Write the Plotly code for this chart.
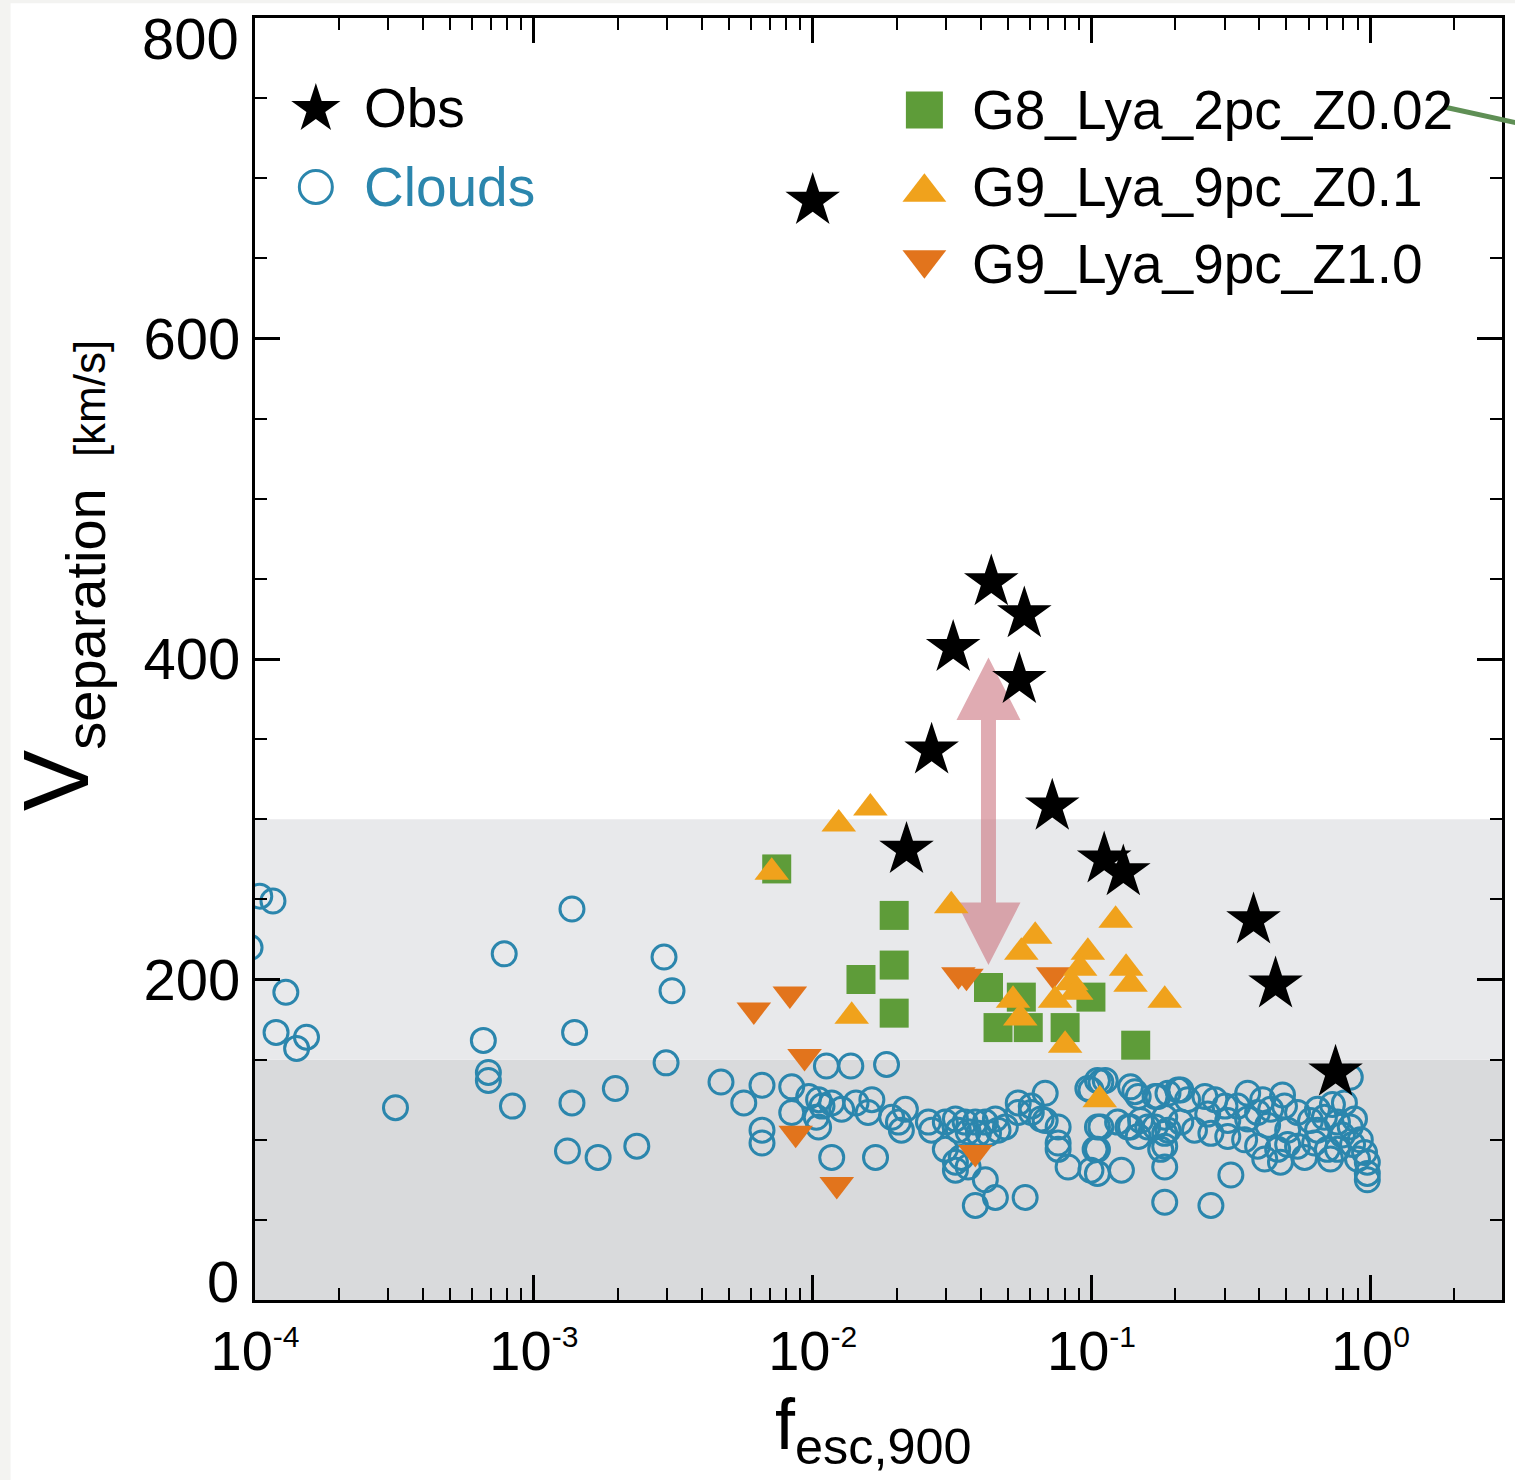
import plotly.graph_objects as go

# ---------------- data ----------------
# Observed Lyman-alpha emitters (escape fraction, peak separation in km/s)
obs_f = [0.0100, 0.0437, 0.0574, 0.0319, 0.0551, 0.0267, 0.0723, 0.0217, 0.111, 0.130, 0.381, 0.457, 0.750]
obs_v = [686, 448, 428, 407, 387, 343, 308, 281, 275, 267, 237, 197, 142]

# Individual star-forming clouds
cloud_f = [
    1.04e-4, 1.16e-4, 0.96e-4, 1.29e-4, 1.19e-4, 1.53e-4, 1.41e-4, 3.19e-4, 6.59e-4, 6.87e-4,
    6.87e-4, 8.38e-4, 7.83e-4, 1.37e-3, 1.40e-3, 1.37e-3, 1.96e-3, 1.32e-3, 1.70e-3, 2.34e-3,
    2.93e-3, 3.13e-3, 2.98e-3, 4.69e-3, 5.66e-3, 6.58e-3, 6.58e-3, 6.58e-3, 8.41e-3, 8.41e-3,
    0.0112, 0.0137, 0.0184, 9.68e-3, 0.0105, 0.0108, 0.0103, 0.0117, 0.0127, 0.0105,
    0.0117, 0.0168, 0.0143, 0.0163, 0.0158, 0.0192, 0.0215, 0.0208, 0.0203, 0.0260,
    0.0267, 0.0299, 0.0325, 0.0352, 0.0383, 0.0416, 0.0452, 0.0491, 0.0333, 0.0361,
    0.0393, 0.0427, 0.0462, 0.0299, 0.0325, 0.0341, 0.0361, 0.0325, 0.0416, 0.0383,
    0.0452, 0.0578, 0.0546, 0.0608, 0.0682, 0.0659, 0.0759, 0.0759, 0.0824, 0.0995,
    0.105, 0.105, 0.103, 0.0995, 0.128, 0.138, 0.147, 0.138, 0.147, 0.0970,
    0.108, 0.143, 0.169, 0.188, 0.209, 0.0759, 0.135, 0.150, 0.169, 0.188,
    0.209, 0.177, 0.183, 0.183, 0.0546, 0.0608, 0.0682, 0.112, 0.173, 0.204,
    0.221, 0.255, 0.277, 0.363, 0.301, 0.334, 0.394, 0.439, 0.492, 0.548,
    0.610, 0.684, 0.762, 0.847, 0.108, 0.124, 0.159, 0.183, 0.234, 0.268,
    0.308, 0.354, 0.394, 0.465, 0.548, 0.631, 0.701, 0.418, 0.476, 0.581,
    0.719, 0.847, 0.807, 0.877, 0.920, 0.953, 0.975, 0.975, 0.975, 0.105,
    0.105, 0.183, 0.316, 0.268, 0.183, 0.428, 0.505, 0.646, 0.794, 0.863,
    0.762, 0.899, 0.363, 0.308, 0.261, 0.505, 0.646, 0.731, 0.484, 0.411,
]
cloud_v = [
    252, 249, 220, 192, 167, 164, 157, 120, 162, 142,
    137, 121, 216, 244, 167, 123, 132, 93, 89, 96,
    214, 193, 148, 136, 123, 134, 106, 98, 133, 117,
    146, 146, 147, 127, 125, 121, 114, 123, 119, 108,
    89, 89, 123, 125, 117, 114, 119, 106, 111, 111,
    106, 111, 113, 111, 111, 111, 113, 108, 106, 105,
    104, 104, 106, 94, 86, 89, 83, 81, 75, 59,
    64, 64, 117, 121, 129, 113, 108, 98, 83, 131,
    137, 108, 94, 81, 81, 133, 127, 108, 102, 132,
    136, 130, 127, 129, 131, 94, 108, 112, 108, 106,
    111, 94, 83, 61, 123, 117, 112, 137, 127, 131,
    125, 127, 125, 129, 121, 121, 117, 119, 121, 117,
    112, 114, 111, 108, 108, 111, 108, 104, 106, 104,
    102, 100, 96, 94, 96, 98, 94, 88, 86, 89,
    88, 139, 123, 113, 100, 92, 86, 79, 75, 94,
    79, 96, 78, 59, 114, 109, 106, 106, 103, 97,
    94, 88, 113, 112, 116, 97, 119, 122, 128, 125,
]

# G8_Lya_2pc_Z0.02 simulation snapshots
g8_f = [7.43e-3, 0.0196, 0.0196, 0.0149, 0.0196, 0.0427, 0.0560, 0.0462, 0.0593, 0.0804, 0.0995, 0.144]
g8_v = [269, 240, 209, 200, 179, 195, 189, 170, 170, 170, 189, 159]

# G9_Lya_9pc_Z0.1 simulation snapshots
g9a_f = [7.13e-3, 0.0124, 0.0161, 0.0314, 0.0138, 0.122, 0.0628, 0.0560, 0.0970, 0.0910,
         0.133, 0.138, 0.0846, 0.183, 0.0523, 0.0555, 0.0740, 0.0804, 0.0881, 0.107]
g9a_v = [267, 297, 307, 246, 177, 237, 227, 217, 217, 207,
         207, 197, 198, 187, 187, 176, 187, 159, 192, 125]

# G9_Lya_9pc_Z1.0 simulation snapshots
g9b_f = [6.15e-3, 8.28e-3, 9.35e-3, 8.69e-3, 0.0122, 0.0383, 0.0333, 0.0356, 0.0728]
g9b_v = [181, 191, 152, 104, 72, 92, 203, 202, 203]

# Shaded velocity bands and the highlighted offset (km/s)
band_dark = [0, 150]
band_light = [150, 300]
offset_f = 0.0427
offset_v = [209, 401]

x_tickvals = [1e-4, 1e-3, 1e-2, 1e-1, 1e0]
x_ticktext = ["-4", "-3", "-2", "-1", "0"]
y_inner_ticks = [200, 400, 600]
y_end_ticks = [0, 800]

# ---------------- styling ----------------
FONT = "Liberation Sans, Arial, Helvetica, sans-serif"
C_CLOUD = "#2b86ad"
C_G8 = "#5e9c39"
C_G9A = "#f0a21c"
C_G9B = "#e2741c"
C_OBS = "#000000"

fig = go.Figure()

fig.add_trace(go.Scatter(
    x=cloud_f, y=cloud_v, mode="markers", name="Clouds",
    marker=dict(symbol="circle-open", size=24, color=C_CLOUD, line=dict(width=3, color=C_CLOUD)),
))
fig.add_trace(go.Scatter(
    x=g8_f, y=g8_v, mode="markers", name="G8_Lya_2pc_Z0.02",
    marker=dict(symbol="square", size=29, color=C_G8, line=dict(width=0)),
))
fig.add_trace(go.Scatter(
    x=g9b_f, y=g9b_v, mode="markers", name="G9_Lya_9pc_Z1.0",
    marker=dict(symbol="triangle-down", size=30, color=C_G9B, line=dict(width=0)),
))
fig.add_trace(go.Scatter(
    x=g9a_f, y=g9a_v, mode="markers", name="G9_Lya_9pc_Z0.1",
    marker=dict(symbol="triangle-up", size=30, color=C_G9A, line=dict(width=0)),
))
fig.add_trace(go.Scatter(
    x=obs_f, y=obs_v, mode="markers", name="Obs",
    marker=dict(symbol="star", size=41, color=C_OBS, line=dict(width=0)),
))

# ---------------- key (drawn on an overlay axis spanning the plot area) ----------------
key_items = [
    ("star", 37, C_OBS, 0.0488, 0.9290),
    ("circle-open", 33, C_CLOUD, 0.0488, 0.8682),
    ("square", 37, C_G8, 0.5368, 0.9282),
    ("triangle-up", 38, C_G9A, 0.5368, 0.8640),
    ("triangle-down", 38, C_G9B, 0.5368, 0.8115),
]
for sym, sz, col, kx, ky in key_items:
    fig.add_trace(go.Scatter(
        x=[kx], y=[ky], mode="markers", xaxis="x2", yaxis="y2", showlegend=False,
        hoverinfo="skip",
        marker=dict(symbol=sym, size=sz, color=col, line=dict(width=3 if sym == "circle-open" else 0, color=col)),
    ))

key_text = [
    ("Obs", "black", 0.0856, 0.9298),
    ("Clouds", C_CLOUD, 0.0856, 0.8682),
    ("G8_Lya_2pc_Z0.02", "black", 0.5736, 0.9282),
    ("G9_Lya_9pc_Z0.1", "black", 0.5736, 0.8682),
    ("G9_Lya_9pc_Z1.0", "black", 0.5736, 0.8081),
]
annotations = []
for txt, col, tx, ty in key_text:
    annotations.append(dict(
        text=txt, x=tx, y=ty, xref="paper", yref="paper", xanchor="left", yanchor="middle",
        showarrow=False, font=dict(family=FONT, size=55, color=col),
    ))

# end labels of the y axis sit just inside the frame
for val, shift in zip(y_end_ticks, [19, -20]):
    annotations.append(dict(
        text=str(val), x=0, y=val, xref="paper", yref="y", xanchor="right", yanchor="middle",
        xshift=-14, yshift=shift, showarrow=False, font=dict(family=FONT, size=58, color="black"),
    ))

# axis titles
annotations.append(dict(
    text='<span style="font-size:92px">V</span><sub>separation  <span style="font-size:44px">[km/s]</span></sub>',
    x=-0.156, y=0.565, xref="paper", yref="paper", xanchor="center", yanchor="middle",
    textangle=-90, showarrow=False, font=dict(family=FONT, size=80, color="black"),
))
annotations.append(dict(
    text="f<sub>esc,900</sub>",
    x=0.496, y=-0.064, xref="paper", yref="paper", xanchor="center", yanchor="top",
    showarrow=False, font=dict(family=FONT, size=72, color="black"),
))

# ---------------- shapes ----------------
shapes = [
    # white page over a light frame strip on the left/top edge
    dict(type="rect", xref="paper", yref="paper", x0=-0.196, x1=1.02, y0=-0.15, y1=1.0115,
         fillcolor="white", line=dict(width=0), layer="below"),
    dict(type="rect", xref="paper", yref="y", x0=0, x1=1, y0=band_dark[0], y1=band_dark[1],
         fillcolor="#d9dadc", line=dict(width=0), layer="below"),
    dict(type="rect", xref="paper", yref="y", x0=0, x1=1, y0=band_light[0], y1=band_light[1],
         fillcolor="#e8e9eb", line=dict(width=0), layer="below"),
]

# double-headed arrow, pixel width anchored at offset_f
lo, hi = offset_v
head = 39
arrow_path = (
    f"M0,{hi} L32,{hi - head} L7.5,{hi - head} L7.5,{lo + head} L32,{lo + head} "
    f"L0,{lo} L-32,{lo + head} L-7.5,{lo + head} L-7.5,{hi - head} L-32,{hi - head} Z"
)
shapes.append(dict(
    type="path", xref="x", yref="y", xsizemode="pixel", xanchor=offset_f, path=arrow_path,
    fillcolor="rgba(205,120,130,0.62)", line=dict(width=0), layer="below",
))

# connector line leaving the key towards the neighbouring panel
shapes.append(dict(
    type="line", xref="paper", yref="paper", x0=0.9536, y0=0.9306, x1=1.02, y1=0.9165,
    line=dict(color="#5f8f55", width=5), layer="above",
))

fig.update_layout(
    width=1515, height=1480, autosize=False,
    margin=dict(l=255, r=10, t=18, b=180, pad=0),
    paper_bgcolor="#f3f3f1", plot_bgcolor="white",
    showlegend=False,
    font=dict(family=FONT, color="black"),
    shapes=shapes, annotations=annotations,
    xaxis=dict(
        type="log", range=[-4, 0.472],
        tickvals=x_tickvals,
        ticktext=[f'10<sup><span style="font-size:30px">{t}</span></sup>' for t in x_ticktext],
        ticks="inside", ticklen=25, tickwidth=2.5, tickcolor="black",
        minor=dict(ticks="inside", ticklen=12, tickwidth=2, tickcolor="black", dtick="D1"),
        showline=True, linewidth=3, linecolor="black", mirror="ticks",
        showgrid=False, zeroline=False,
        tickfont=dict(family=FONT, size=56, color="black"),
    ),
    yaxis=dict(
        range=[0, 800],
        tickvals=y_inner_ticks + y_end_ticks,
        ticktext=[str(v) for v in y_inner_ticks] + ["", ""],
        ticks="inside", ticklen=25, tickwidth=2.5, tickcolor="black",
        minor=dict(ticks="inside", ticklen=12, tickwidth=2, tickcolor="black", dtick=50),
        showline=True, linewidth=3, linecolor="black", mirror="ticks",
        showgrid=False, zeroline=False,
        tickfont=dict(family=FONT, size=58, color="black"),
    ),
    xaxis2=dict(overlaying="x", range=[0, 1], visible=False, fixedrange=True),
    yaxis2=dict(overlaying="y", range=[0, 1], visible=False, fixedrange=True),
)

fig.write_html("out.html")
